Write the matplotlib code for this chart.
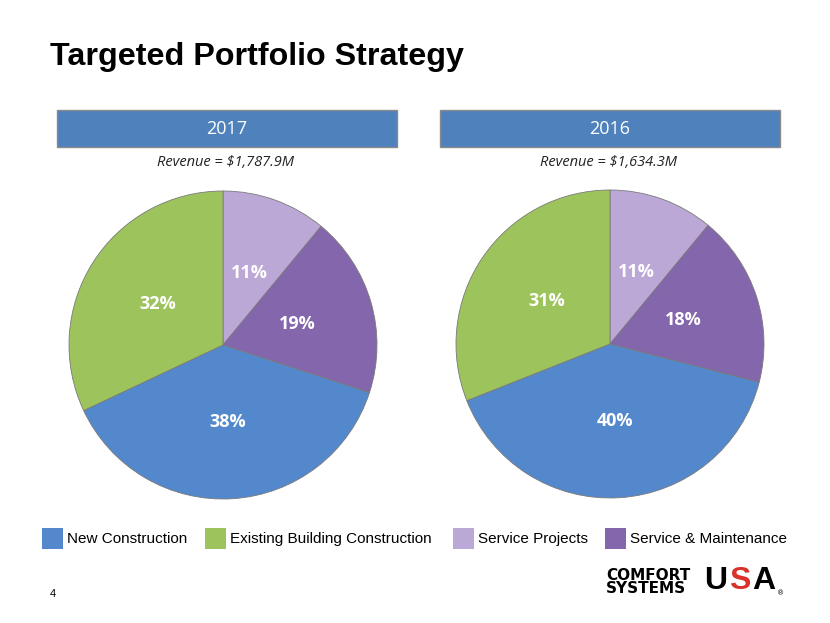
"""Targeted Portfolio Strategy — two revenue-mix pies (2017 vs 2016)."""

import matplotlib
matplotlib.use("Agg")
import matplotlib.pyplot as plt
from matplotlib.patches import Rectangle

W, H = 830, 623

CATEGORIES = ["Service Projects", "Service & Maintenance",
              "New Construction", "Existing Building Construction"]
COLORS = ["#BCA8D6", "#8466AC", "#5388CC", "#9DC35C"]

SHARES_2017 = [11, 19, 38, 32]
SHARES_2016 = [11, 18, 40, 31]

YEARS = ["2017", "2016"]
REVENUE = ["Revenue = $1,787.9M", "Revenue = $1,634.3M"]

LEGEND_ORDER = ["New Construction", "Existing Building Construction",
                "Service Projects", "Service & Maintenance"]

PIE_FONT = ["Open Sans", "DejaVu Sans"]


def fx(px):
    return px / W


def fy(py):
    return 1 - py / H


def draw_pie(fig, cx, cy, r, shares):
    pad = 6
    ax = fig.add_axes([fx(cx - r - pad), fy(cy + r + pad),
                       (2 * r + 2 * pad) / W, (2 * r + 2 * pad) / H])
    lim = (r + pad) / r
    ax.pie(
        shares, colors=COLORS, startangle=90, counterclock=False,
        labels=[f"{s}%" for s in shares], labeldistance=0.5,
        wedgeprops={"edgecolor": "#7a7a7a", "linewidth": 0.6},
        textprops={"color": "white", "fontsize": 13, "fontweight": "bold",
                   "family": PIE_FONT, "ha": "center", "va": "center"},
    )
    ax.set_xlim(-lim, lim)
    ax.set_ylim(-lim, lim)
    ax.set_aspect("equal")
    ax.axis("off")


def main():
    fig = plt.figure(figsize=(W / 100, H / 100), dpi=100)
    fig.patch.set_facecolor("white")

    fig.text(fx(50), fy(57), "Targeted Portfolio Strategy", fontsize=23.2,
             fontweight="bold", family="Liberation Sans", va="center", ha="left")

    # year header bars + revenue captions
    bar_left = [57, 440]
    for left, year, rev in zip(bar_left, YEARS, REVENUE):
        fig.patches.append(Rectangle((fx(left), fy(147)), 340 / W, 37 / H,
                                     transform=fig.transFigure,
                                     facecolor="#4F81BD", edgecolor="#8a8a8a",
                                     linewidth=1.0))
        fig.text(fx(left + 170), fy(129), year, color="white", fontsize=13,
                 family=PIE_FONT, ha="center", va="center")
        fig.text(fx(left + 168), fy(163), rev, color="#222222", fontsize=10.5,
                 style="italic", family=PIE_FONT, ha="center", va="center")

    draw_pie(fig, 223, 345, 154, SHARES_2017)
    draw_pie(fig, 610, 344, 154, SHARES_2016)

    # legend row
    leg_x = [42, 205, 453, 605]
    for x, name in zip(leg_x, LEGEND_ORDER):
        col = COLORS[CATEGORIES.index(name)]
        fig.patches.append(Rectangle((fx(x), fy(549)), 21 / W, 21 / H,
                                     transform=fig.transFigure,
                                     facecolor=col, edgecolor="none"))
        fig.text(fx(x + 25), fy(539), name, fontsize=11,
                 family="Liberation Sans", ha="left", va="center")

    fig.text(fx(50), fy(594), "4", fontsize=8, family="Liberation Sans",
             ha="left", va="center")

    # company logo (text)
    fig.text(fx(606), fy(582), "COMFORT\nSYSTEMS", fontsize=11,
             fontweight="bold", family="DejaVu Sans", ha="left",
             va="center", linespacing=0.8)
    for x, letter, col in [(704, "U", "black"), (729, "S", "#D9322A"),
                           (752, "A", "black")]:
        fig.text(fx(x), fy(581), letter, fontsize=23, fontweight="bold",
                 color=col, family="Liberation Sans", ha="left", va="center")
    fig.text(fx(777), fy(593), "®", fontsize=5, family="DejaVu Sans",
             ha="left", va="center")

    fig.savefig("out.png", dpi=100)
    plt.close(fig)


if __name__ == "__main__":
    main()
